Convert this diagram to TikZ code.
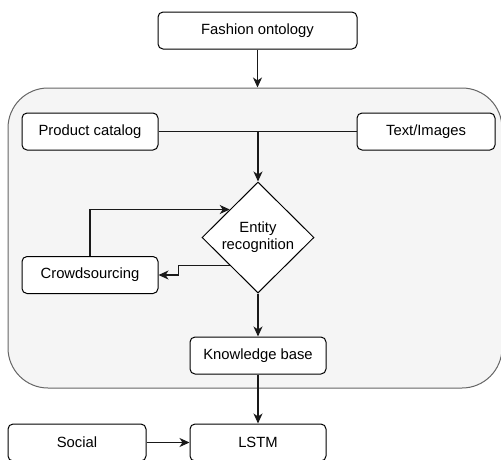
\documentclass[tikz,border=0pt]{standalone}
\usepackage{fontspec}
\setmainfont{Liberation Sans}
\usetikzlibrary{shapes.geometric,arrows.meta,calc}
\begin{document}
\begin{tikzpicture}[x=1pt,y=-1pt,
  font=\fontsize{14.8pt}{17pt}\selectfont,
  box/.style={draw=black,fill=white,rounded corners=5pt,line width=1pt,
    minimum width=136pt,minimum height=37pt,inner sep=0pt},
  decide/.style={draw=black,fill=white,diamond,line width=1pt,inner sep=0pt,
    minimum width=112pt,minimum height=111pt,align=center},
  group/.style={draw=black!60,fill=black!4,rounded corners=40pt,line width=1pt,
    minimum width=494pt,minimum height=300pt,inner sep=0pt},
  conn/.style={line width=1.2pt,draw=black!90},
  arr/.style={conn,-{Stealth[length=10pt,width=9pt,inset=3pt]}}]
\useasboundingbox (0,0) rectangle (501,459);
\node[group] (grp) at (255,238) {};
\node[box,minimum width=199pt] (fo) at (257.5,30.5) {Fashion ontology};
\node[box] (pc) at (90,131.5) {Product catalog};
\node[box,minimum width=138pt] (ti) at (426,131.5) {Text/Images};
\node[decide] (ent) at (258,237.5) {Entity\\recognition};
\node[box] (cs) at (90,275) {Crowdsourcing};
\node[box] (kb) at (258,355.5) {Knowledge base};
\node[box] (lstm) at (258,442.5) {LSTM};
\node[box,minimum width=138pt] (soc) at (77,442.5) {Social};
\coordinate (wn) at ($(ent.west)!0.5!(ent.north)$);
\coordinate (ws) at ($(ent.west)!0.5!(ent.south)$);
\coordinate (jn) at (pc.east -| ent.north);
\draw[arr] (fo.south) -- (fo.south |- grp.north);
\draw[conn] (pc.east) -- (ti.west);
\draw[arr] (jn) -- (ent.north);
\draw[arr] (cs.north) |- (wn);
\draw[arr] (ws) -| ([xshift=20pt]cs.east) -- (cs.east);
\draw[arr] (ent.south) -- (kb.north);
\draw[arr] (kb.south) -- (lstm.north);
\draw[arr] (soc.east) -- (lstm.west);
\end{tikzpicture}
\end{document}
